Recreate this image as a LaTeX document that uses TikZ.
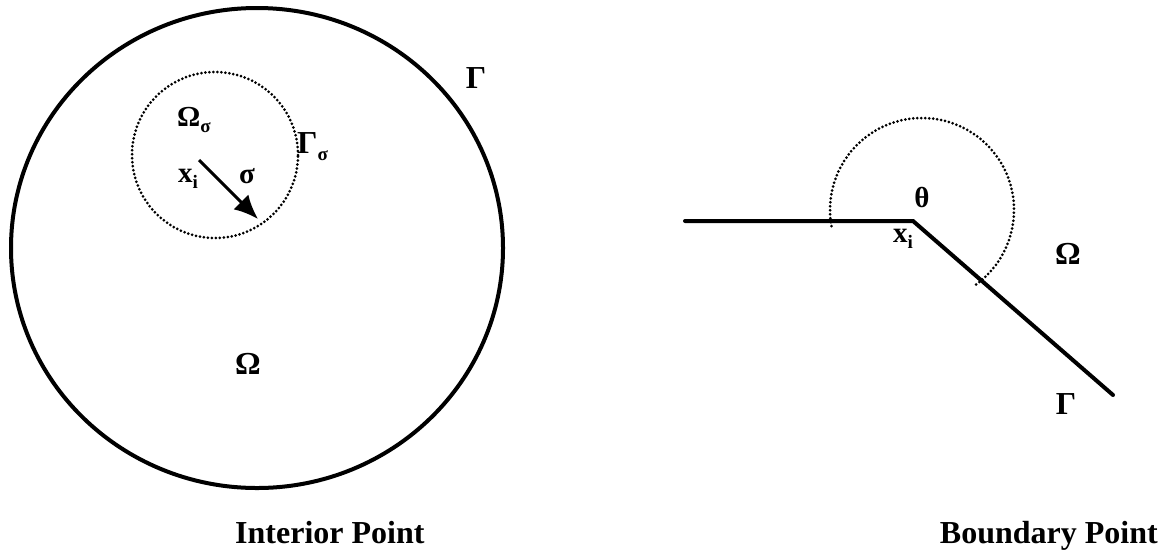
\documentclass[tikz,border=0pt]{standalone}
\usepackage{fontspec}
\setmainfont{Liberation Serif}
\usetikzlibrary{arrows.meta}

\newcommand{\lowsub}[1]{\raisebox{-0.22em}{\fontsize{19}{19}\selectfont #1}}

\begin{document}
\begin{tikzpicture}[
  x=1pt,y=-1pt,
  lbl/.style={font=\fontsize{32}{36}\selectfont\bfseries,inner sep=0pt},
  slbl/.style={font=\fontsize{29}{34}\selectfont\bfseries,inner sep=0pt},
  title/.style={font=\fontsize{32}{36}\selectfont\bfseries,inner sep=0pt},
  bound/.style={line width=4pt},
  dotline/.style={line width=3pt,line cap=round,dash pattern=on 0pt off 4pt},
  vec/.style={line width=3pt,-{Latex[length=24pt,width=21pt]}}
]
  \useasboundingbox (0,0) rectangle (1166,558);

  %% ===== LEFT: interior point =====

  % domain and its boundary
  \draw[bound] (257,248) ellipse [x radius=246pt,y radius=240pt];

  % small ball round x_i
  \coordinate (sc) at (215,155);
  \draw[dotline] (sc) circle [radius=83pt];

  % radius arrow
  \coordinate (xi) at (199,160);
  \coordinate (tip) at (258,219);
  \draw[vec] (xi) -- (tip);

  % labels
  \node[lbl] (gam) at (476,78) {Γ};
  \node[lbl] (om) at (248,364) {Ω};
  \node[slbl,anchor=base west] (oms) at (177,126) {Ω\lowsub{σ}};
  \node[lbl,anchor=base west] (gams) at (297,153) {Γ\lowsub{σ}};
  \node[slbl,anchor=base west] (xil) at (178,182) {x\lowsub{i}};
  \node[slbl] (sig) at (247,176) {σ};

  \node[title,anchor=base west] (tint) at (235,543) {Interior Point};

  %% ===== RIGHT: boundary point =====

  % corner of the boundary
  \coordinate (lend) at (685,221);
  \coordinate (corner) at (913,221);
  \coordinate (rend) at (1113,395);
  \draw[bound,line cap=round] (lend) -- (corner) -- (rend);

  % angle arc (y points down here)
  \coordinate (thc) at (922,210);
  \draw[dotline] (thc) ++(54:92) arc [start angle=54,end angle=-192,radius=92];

  % labels
  \node[slbl] (th) at (922,197) {θ};
  \node[slbl,anchor=base west] (xir) at (893,242) {x\lowsub{i}};
  \node[lbl] (omr) at (1068,254) {Ω};
  \node[lbl] (gamr) at (1066,404) {Γ};

  \node[title,anchor=base east] (tbnd) at (1158,543) {Boundary Point};

\end{tikzpicture}
\end{document}
